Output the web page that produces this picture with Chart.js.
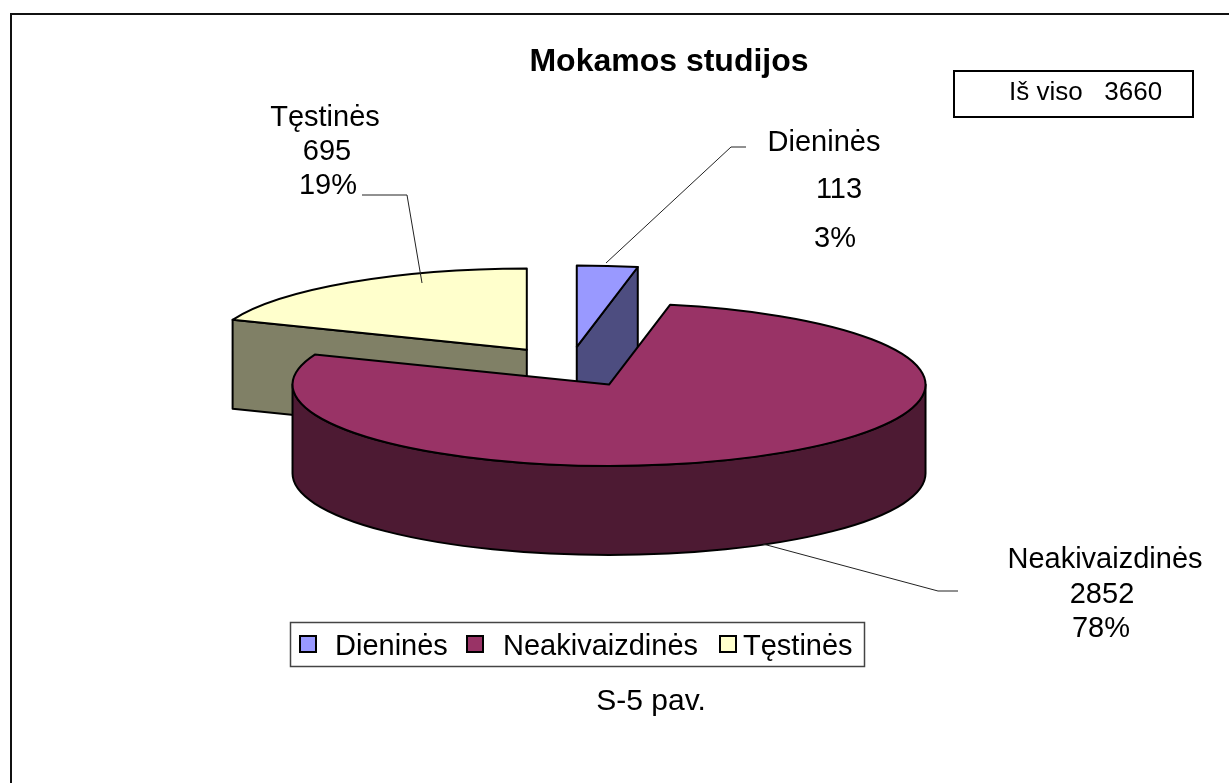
<!DOCTYPE html>
<html>
<head>
<meta charset="utf-8">
<title>Mokamos studijos</title>
<script src="https://cdn.jsdelivr.net/npm/chart.js@4"></script>
<style>
  html, body { margin: 0; padding: 0; background: #fff; overflow: hidden; }
  canvas { display: block; }
</style>
</head>
<body>
<canvas id="myChart" width="1229" height="783"></canvas>
<script>
const categories = ['Dieninės', 'Neakivaizdinės', 'Tęstinės'];
const values = [113, 2852, 695];
const percents = ['3%', '78%', '19%'];
const topColors = ['#9999FF', '#993366', '#FFFFCC'];
const sideColors = ['#4D4D80', '#4D1A33', '#808066'];

const FONT = '"Liberation Sans", Arial, sans-serif';
const tilt = 0.257;             // squash of the circle into the ellipse
const depth = 89;               // height of the pie wall
const explode = [75, 82.5, 76]; // how far each slice is pulled out
const drawOrder = [2, 0, 1];

// text layout: [center x, baseline y] for name, value, percent of each slice
const labelSpots = [
    [[824, 151], [839, 198], [835, 247]],
    [[1105, 568], [1102, 603], [1101, 637]],
    [[325, 126], [327, 160], [328, 194]]
];
const leaders = [
    [[606, 263], [731, 147], [746, 147]],
    [[763, 544], [938, 591], [958, 591]],
    [[362, 195], [407, 195], [422, 283]]
];
const legendSpots = [[300, 335], [467, 503], [720, 743]];

function sliceCenter(arc, i) {
    const mid = (arc.startAngle + arc.endAngle) / 2;
    return {
        x: arc.x + Math.cos(mid) * explode[i],
        y: arc.y + Math.sin(mid) * explode[i] * tilt
    };
}

function drawSlice(ctx, arc, i) {
    const c = sliceCenter(arc, i);
    const r = arc.outerRadius;
    const ry = r * tilt;
    const a = arc.startAngle;
    const b = arc.endAngle;
    ctx.lineWidth = 2;
    ctx.lineJoin = 'round';
    ctx.strokeStyle = '#000';

    // cut faces, only the ones turned towards us
    ctx.fillStyle = sideColors[i];
    [[a, -Math.cos(a)], [b, Math.cos(b)]].forEach(([ang, facing]) => {
        if (facing <= 0.001) return;
        const ex = c.x + Math.cos(ang) * r;
        const ey = c.y + Math.sin(ang) * ry;
        ctx.beginPath();
        ctx.moveTo(c.x, c.y);
        ctx.lineTo(ex, ey);
        ctx.lineTo(ex, ey + depth);
        ctx.lineTo(c.x, c.y + depth);
        ctx.closePath();
        ctx.fill();
        ctx.stroke();
    });

    // outer wall, front half of the ellipse
    const s = Math.max(a, 0);
    const e = Math.min(b, Math.PI);
    if (e > s) {
        ctx.beginPath();
        ctx.ellipse(c.x, c.y, r, ry, 0, s, e);
        ctx.ellipse(c.x, c.y + depth, r, ry, 0, e, s, true);
        ctx.closePath();
        ctx.fill();
        ctx.stroke();
    }

    // top face comes from the library's own arc
    ctx.save();
    ctx.translate(c.x, c.y);
    ctx.scale(1, tilt);
    ctx.translate(-arc.x, -arc.y);
    arc.draw(ctx);
    ctx.restore();

    ctx.beginPath();
    ctx.moveTo(c.x, c.y);
    ctx.ellipse(c.x, c.y, r, ry, 0, a, b);
    ctx.closePath();
    ctx.stroke();
}

const pie3d = {
    id: 'pie3d',
    beforeDatasetDraw(chart, args) {
        const ctx = chart.ctx;
        const arcs = args.meta.data;
        ctx.save();
        drawOrder.forEach(i => drawSlice(ctx, arcs[i], i));
        ctx.restore();
        return false;
    }
};

function text(ctx, str, x, y, font, align) {
    ctx.font = font;
    ctx.textAlign = align;
    ctx.textBaseline = 'alphabetic';
    ctx.fillStyle = '#000';
    ctx.fillText(str, x, y);
}

const decorations = {
    id: 'decorations',
    beforeDraw(chart) {
        const ctx = chart.ctx;
        ctx.save();
        ctx.fillStyle = '#fff';
        ctx.fillRect(0, 0, chart.width, chart.height);
        ctx.fillStyle = '#111';
        ctx.fillRect(10, 13, 2, 770);
        ctx.fillRect(10, 13, 1219, 2);
        ctx.restore();
    },
    afterDraw(chart) {
        const ctx = chart.ctx;
        ctx.save();

        // leader lines
        ctx.strokeStyle = '#222';
        ctx.lineWidth = 1;
        leaders.forEach(pts => {
            ctx.beginPath();
            pts.forEach((p, j) => j ? ctx.lineTo(p[0], p[1]) : ctx.moveTo(p[0], p[1]));
            ctx.stroke();
        });

        // data labels
        const labelFont = '29px ' + FONT;
        categories.forEach((name, i) => {
            const spots = labelSpots[i];
            text(ctx, name, spots[0][0], spots[0][1], labelFont, 'center');
            text(ctx, String(values[i]), spots[1][0], spots[1][1], labelFont, 'center');
            text(ctx, percents[i], spots[2][0], spots[2][1], labelFont, 'center');
        });

        text(ctx, 'Mokamos studijos', 669, 71, 'bold 32px ' + FONT, 'center');

        // total box
        ctx.strokeStyle = '#000';
        ctx.lineWidth = 2;
        ctx.strokeRect(954, 71, 239, 46);
        text(ctx, 'Iš viso   3660', 1009, 100, '26px ' + FONT, 'left');

        // legend
        ctx.strokeStyle = '#444';
        ctx.lineWidth = 1.5;
        ctx.strokeRect(290.5, 622.5, 574, 44);
        categories.forEach((name, i) => {
            ctx.fillStyle = topColors[i];
            ctx.strokeStyle = '#000';
            ctx.lineWidth = 2;
            ctx.fillRect(legendSpots[i][0], 636, 16, 16);
            ctx.strokeRect(legendSpots[i][0], 636, 16, 16);
            text(ctx, name, legendSpots[i][1], 655, labelFont, 'left');
        });

        text(ctx, 'S-5 pav.', 651, 710, '30px ' + FONT, 'center');
        ctx.restore();
    }
};

const ctx = document.getElementById('myChart');
const myChart = new Chart(ctx, {
    type: 'pie',
    data: {
        labels: categories,
        datasets: [{
            data: values,
            backgroundColor: topColors,
            borderWidth: 0,
            hoverOffset: 0
        }]
    },
    options: {
        responsive: false,
        animation: false,
        events: [],
        radius: 316.5,
        layout: { padding: { left: 0, top: 0, right: 90, bottom: 51 } },
        plugins: {
            legend: { display: false },
            tooltip: { enabled: false }
        }
    },
    plugins: [decorations, pie3d]
});
</script>
</body>
</html>
